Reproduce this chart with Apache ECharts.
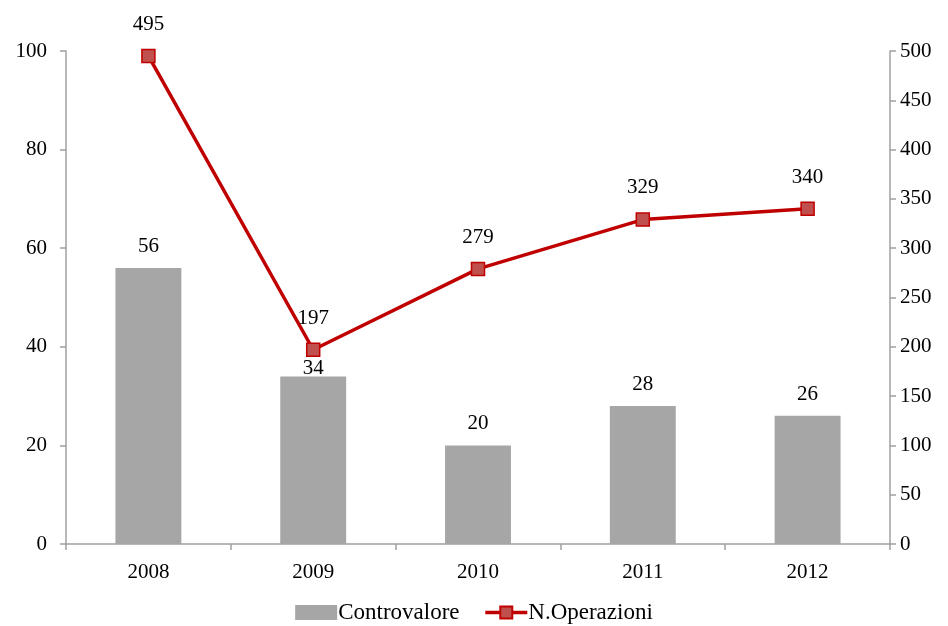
<!DOCTYPE html>
<html><head><meta charset="utf-8">
<script src="https://cdn.jsdelivr.net/npm/echarts@6/dist/echarts.min.js"></script>
<style>html,body{margin:0;padding:0;background:#fff}#c{width:948px;height:626px}</style>
</head><body><div id="c"></div>
<script>
var categories = ['2008','2009','2010','2011','2012'];
var controvalore = [56, 34, 20, 28, 26];
var operazioni = [495, 197, 279, 329, 340];
var leftTicks = [0,20,40,60,80,100];
var rightTicks = [0,50,100,150,200,250,300,350,400,450,500];

var font = 'Liberation Serif';
var axisColor = '#a0a0a0';
// the 2009 bar label sits lower in the original, just under the line marker
var barData = controvalore.map(function (v, i) {
  return i === 1 ? {value: v, label: {offset: [0, 14]}} : v;
});
var chart = echarts.init(document.getElementById('c'));
chart.setOption({
  animation: false,
  textStyle: {fontFamily: font},
  grid: {left: 66, right: 58, top: 51, bottom: 82, containLabel: false},
  legend: {
    bottom: -3, left: 'center', itemGap: 24, itemWidth: 42, itemHeight: 15,
    textStyle: {fontFamily: font, fontSize: 23, color: '#000', padding: [0,0,0,-4]},
    data: [{name: 'Controvalore', icon: 'rect'},
           {name: 'N.Operazioni', lineStyle: {width: 3.5, color: '#c00000'}}]
  },
  xAxis: {
    type: 'category', data: categories, boundaryGap: true,
    axisLine: {lineStyle: {color: axisColor, width: 1.5}},
    axisTick: {show: true, length: 6, lineStyle: {color: axisColor, width: 1.5}},
    axisLabel: {fontFamily: font, fontSize: 21, color: '#000', margin: 18}
  },
  yAxis: [{
    type: 'value', min: 0, max: 100, interval: 20, position: 'left',
    axisLine: {show: true, lineStyle: {color: axisColor, width: 1.5}},
    axisTick: {show: true, length: 6, lineStyle: {color: axisColor, width: 1.5}},
    splitLine: {show: false},
    axisLabel: {fontFamily: font, fontSize: 21, color: '#000', margin: 19}
  }, {
    type: 'value', min: 0, max: 500, interval: 50, position: 'right',
    axisLine: {show: true, lineStyle: {color: axisColor, width: 1.5}},
    axisTick: {show: true, length: 6, lineStyle: {color: axisColor, width: 1.5}},
    splitLine: {show: false},
    axisLabel: {fontFamily: font, fontSize: 21, color: '#000', margin: 10}
  }],
  series: [{
    name: 'Controvalore', type: 'bar', yAxisIndex: 0, data: barData,
    barWidth: '40%',
    itemStyle: {color: '#a6a6a6'},
    label: {show: true, position: 'top', distance: 11, fontFamily: font, fontSize: 21, color: '#000'}
  }, {
    name: 'N.Operazioni', type: 'line', yAxisIndex: 1, data: operazioni,
    symbol: 'rect', symbolSize: 13,
    lineStyle: {color: '#c00000', width: 3.5},
    itemStyle: {color: '#c0504d', borderColor: '#c00000', borderWidth: 1.5},
    label: {show: true, position: 'top', distance: 14, fontFamily: font, fontSize: 21, color: '#000'}
  }]
});
</script></body></html>
